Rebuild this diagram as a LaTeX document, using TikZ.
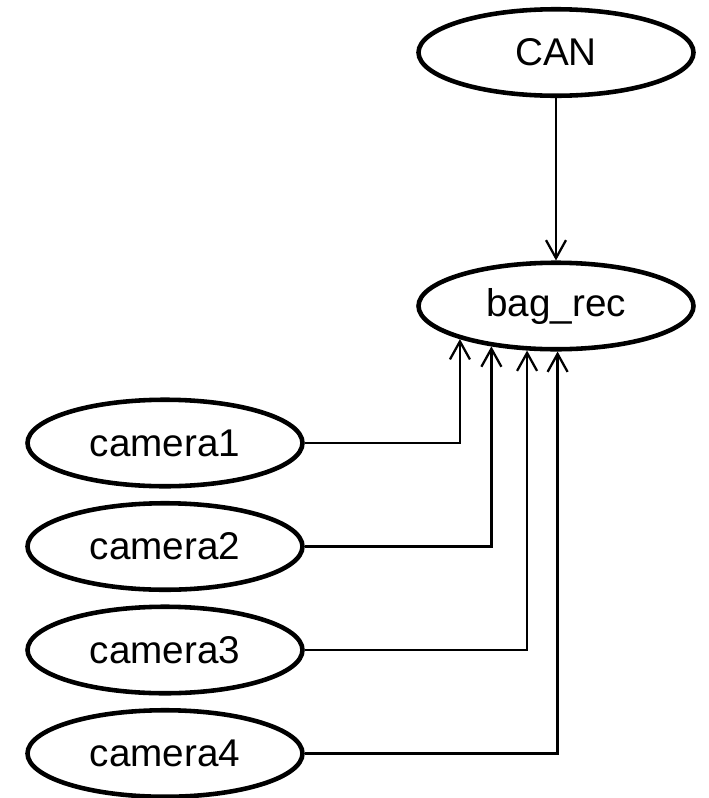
\documentclass[tikz,border=0pt]{standalone}
\usepackage{fontspec}
\setmainfont{Liberation Sans}
\usetikzlibrary{shapes.geometric,arrows.meta}

\tikzset{
  topic/.style={ellipse, draw, line width=2.6pt, minimum width=5.5cm,
    minimum height=1.73cm, inner sep=0pt, font=\fontsize{22}{25}\selectfont},
  conn/.style={line width=1.3pt, -{Straight Barb[length=3.6mm,width=4mm,line width=1.3pt]}}
}

\begin{document}
\begin{tikzpicture}
    \useasboundingbox (0,0) rectangle (14.18,-15.96);
    \node[topic] (can) at (11.12,-1.05) {CAN};
    \node[topic] (bag) at (11.12,-6.12) {bag\_rec};
    % cameras stacked on the left
    \foreach \i in {1,...,4}
        \node[topic] (cam\i) at (3.30,{-8.86-2.07*(\i-1)}) {camera\i};
    \draw[conn] (can) -- (bag);
    \draw[conn] (cam1.east) -| (bag.199);
    \draw[conn] (cam2.east) -| (bag.212.5);
    \draw[conn] (cam3.east) -| (bag.237);
    \draw[conn] (cam4.east) -| (bag.272);
\end{tikzpicture}
\end{document}
